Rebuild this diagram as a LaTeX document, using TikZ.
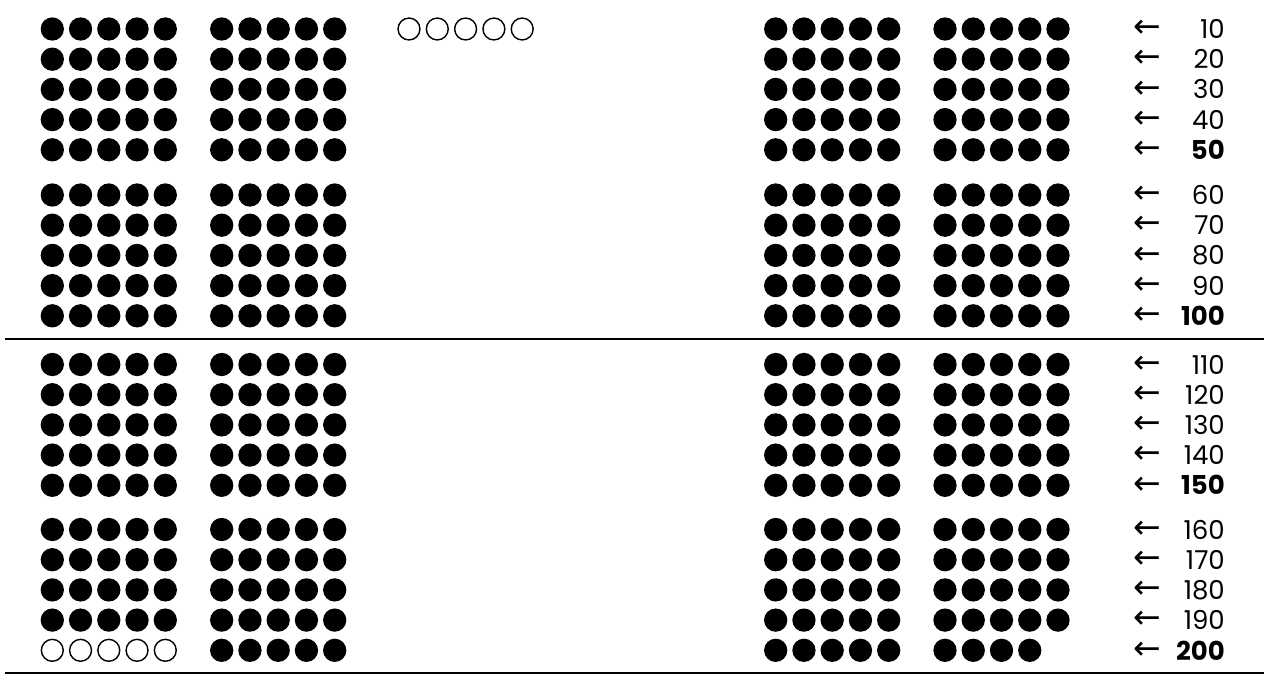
\documentclass[tikz,border=0pt]{standalone}
\usepackage{fontspec}
\setmainfont{Poppins}
\newfontfamily\arrowfont{DejaVu Sans}
\usepackage{tikz}
\usetikzlibrary{positioning}

\tikzset{
  dot/.style={fill=black},
  hole/.style={draw=black, line width=1.4pt, fill=white},
  rule/.style={line width=2.8pt},
  tally/.style={anchor=east, inner sep=0pt, font=\fontsize{26}{30}\selectfont},
  arr/.style={anchor=center, inner sep=0pt, font=\arrowfont\fontsize{33}{36}\selectfont},
}

\begin{document}
\begin{tikzpicture}[x=1pt, y=-1pt]
  \useasboundingbox (0,0) rectangle (1264,675);
  % full groups of dots
  \foreach \gy in {29,195,364.5}
    \foreach \bx in {52.3,221.7,775.7,945}
      \foreach \i in {0,...,4}
        \foreach \j in {0,...,4}
          \fill[dot] (\bx+28.25*\i,\gy+30.2*\j) circle[radius=11.65];
  % last group, first four rows
  \foreach \bx in {52.3,221.7,775.7,945}
    \foreach \i in {0,...,4}
      \foreach \j in {0,...,3}
        \fill[dot] (\bx+28.25*\i,529.5+30.2*\j) circle[radius=11.65];
  % last row
  \foreach \i in {0,...,4}{
    \draw[hole] (52.3+28.25*\i,650.3) circle[radius=10.95];
    \fill[dot] (221.7+28.25*\i,650.3) circle[radius=11.65];
    \fill[dot] (775.7+28.25*\i,650.3) circle[radius=11.65];
  }
  \foreach \i in {0,...,3}
    \fill[dot] (945+28.25*\i,650.3) circle[radius=11.65];
  % empty row at the top
  \foreach \i in {0,...,4}
    \draw[hole] (409+28.3*\i,29) circle[radius=10.95];
  % counts
  \foreach \g/\gy in {0/29,1/195,2/364.5,3/529.5}
    \foreach \j in {0,...,4}{
      \pgfmathtruncatemacro{\val}{50*\g+10*(\j+1)}
      \node[arr] (arr\val) at (1147.5,\gy+30.2*\j) {←};
      \ifnum\j=4
        \node[tally, font=\fontsize{26}{30}\selectfont\bfseries] (num\val) at (1225,\gy+30.2*\j) {\val};
      \else
        \node[tally] (num\val) at (1225,\gy+30.2*\j) {\val};
      \fi
    }
  % rules
  \draw[rule] (5,339) -- (1264,339);
  \draw[rule] (5,673) -- (1264,673);
\end{tikzpicture}
\end{document}
